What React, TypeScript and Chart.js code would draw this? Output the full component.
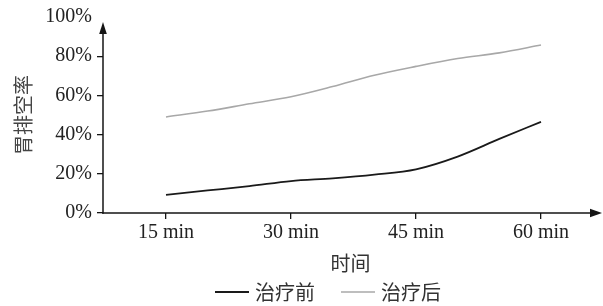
import React, { useEffect, useRef } from "react";
import { Chart, registerables } from "chart.js";

Chart.register(...registerables);

// ---- data ----
const minutes = [15, 20, 25, 30, 35, 40, 45, 50, 55, 60];
const beforeValues = [9.3, 11.5, 13.7, 16.3, 17.7, 19.6, 22.3, 28.8, 37.8, 46.5];
const afterValues = [49, 52, 55.7, 59.3, 64.5, 70.3, 74.8, 78.8, 81.7, 85.7];
const xTickMinutes = [15, 30, 45, 60];
const yTickValues = [0, 20, 40, 60, 80, 100];
const seriesNames = ["治疗前", "治疗后"];
const xTitle = "时间";
const yTitle = "胃排空率";

const SERIF = "'Liberation Serif', 'Times New Roman', serif";
const CJK = "'Noto Sans CJK SC', 'Noto Sans', sans-serif";
const AXIS_COLOR = "#151515";

const arrowAxesPlugin = {
  id: "arrowAxes",
  afterDatasetsDraw(chart: any) {
    const { ctx, chartArea } = chart;
    const x0 = chartArea.left;
    const y0 = chartArea.bottom;
    ctx.save();
    ctx.strokeStyle = AXIS_COLOR;
    ctx.fillStyle = AXIS_COLOR;
    ctx.lineWidth = 1.5;
    // y axis
    const yTip = chartArea.top + 5;
    ctx.beginPath();
    ctx.moveTo(x0, y0 + 0.75);
    ctx.lineTo(x0, yTip + 6);
    ctx.stroke();
    ctx.beginPath();
    ctx.moveTo(x0, yTip);
    ctx.lineTo(x0 - 3.8, yTip + 12);
    ctx.lineTo(x0 + 3.8, yTip + 12);
    ctx.closePath();
    ctx.fill();
    // x axis
    const xTip = chart.width - 1;
    ctx.beginPath();
    ctx.moveTo(x0 - 0.75, y0);
    ctx.lineTo(xTip - 6, y0);
    ctx.stroke();
    ctx.beginPath();
    ctx.moveTo(xTip, y0);
    ctx.lineTo(xTip - 12, y0 - 4.2);
    ctx.lineTo(xTip - 12, y0 + 4.2);
    ctx.closePath();
    ctx.fill();
    ctx.restore();
  },
};

const customLegendPlugin = {
  id: "customLegend",
  afterDraw(chart: any) {
    const { ctx } = chart;
    const lineW = 34;
    const gap = 6;
    const itemGap = 26;
    const centerX = 328;
    const y = 292;
    ctx.save();
    ctx.font = `20px ${CJK}`;
    ctx.textBaseline = "middle";
    ctx.textAlign = "left";
    const ds = chart.data.datasets;
    const widths = ds.map((d: any) => lineW + gap + ctx.measureText(d.label).width);
    const total = widths.reduce((a: number, b: number) => a + b, 0) + itemGap * (ds.length - 1);
    let x = centerX - total / 2;
    ds.forEach((d: any, i: number) => {
      ctx.strokeStyle = d.borderColor;
      ctx.lineWidth = d.borderWidth;
      ctx.beginPath();
      ctx.moveTo(x, y);
      ctx.lineTo(x + lineW, y);
      ctx.stroke();
      ctx.fillStyle = "#333";
      ctx.fillText(d.label, x + lineW + gap, y);
      x += widths[i] + itemGap;
    });
    ctx.restore();
  },
};

export default function App() {
  const canvasRef = useRef<HTMLCanvasElement | null>(null);

  useEffect(() => {
    if (!canvasRef.current) return;
    const chart = new Chart(canvasRef.current, {
      type: "line",
      data: {
        datasets: [
          {
            label: seriesNames[0],
            data: minutes.map((m, i) => ({ x: m, y: beforeValues[i] })),
            borderColor: "#1a1a1a",
            borderWidth: 1.8,
            pointRadius: 0,
            tension: 0.35,
            cubicInterpolationMode: "monotone",
          },
          {
            label: seriesNames[1],
            data: minutes.map((m, i) => ({ x: m, y: afterValues[i] })),
            borderColor: "#a8a8a8",
            borderWidth: 1.6,
            pointRadius: 0,
            tension: 0.35,
            cubicInterpolationMode: "monotone",
          },
        ],
      },
      options: {
        animation: false,
        responsive: false,
        devicePixelRatio: 1,
        layout: { padding: { top: 13, right: 5, bottom: 28, left: 0 } },
        plugins: {
          legend: { display: false },
          tooltip: { enabled: false },
        },
        scales: {
          x: {
            type: "linear",
            min: 7.44,
            max: 66.84,
            afterBuildTicks: (scale: any) => {
              scale.ticks = xTickMinutes.map((v) => ({ value: v }));
            },
            afterFit: (scale: any) => {
              scale.height = 65;
            },
            border: { display: false },
            grid: {
              drawOnChartArea: false,
              drawTicks: true,
              tickLength: 6,
              color: AXIS_COLOR,
              lineWidth: 1.3,
            },
            ticks: {
              padding: 2,
              color: "#222",
              font: { family: SERIF, size: 20 },
              maxRotation: 0,
              autoSkip: false,
              callback: (v: any) => `${v} min`,
            },
            title: {
              display: true,
              text: xTitle,
              color: "#333",
              font: { family: CJK, size: 20 },
              padding: { top: 0, bottom: 3 },
            },
          },
          y: {
            type: "linear",
            min: 0,
            max: 100,
            afterBuildTicks: (scale: any) => {
              scale.ticks = yTickValues.map((v) => ({ value: v }));
            },
            afterFit: (scale: any) => {
              scale.width = 103;
            },
            border: { display: false },
            grid: {
              drawOnChartArea: false,
              drawTicks: true,
              tickLength: 6,
              lineWidth: 1.3,
              color: (c: any) => (c.tick && c.tick.value === 100 ? "rgba(0,0,0,0)" : AXIS_COLOR),
            },
            ticks: {
              padding: 5,
              color: "#222",
              font: { family: SERIF, size: 20 },
              autoSkip: false,
              callback: (v: any) => `${v}%`,
            },
            title: {
              display: true,
              text: yTitle,
              color: "#444",
              font: { family: CJK, size: 20 },
              padding: { top: 11, bottom: 0 },
            },
          },
        },
      },
      plugins: [arrowAxesPlugin, customLegendPlugin],
    } as any);
    return () => chart.destroy();
  }, []);

  return (
    <div style={{ position: "fixed", left: 0, top: 0, width: 603, height: 306, background: "#fff" }}>
      <canvas ref={canvasRef} width={603} height={306} style={{ display: "block" }} />
    </div>
  );
}
